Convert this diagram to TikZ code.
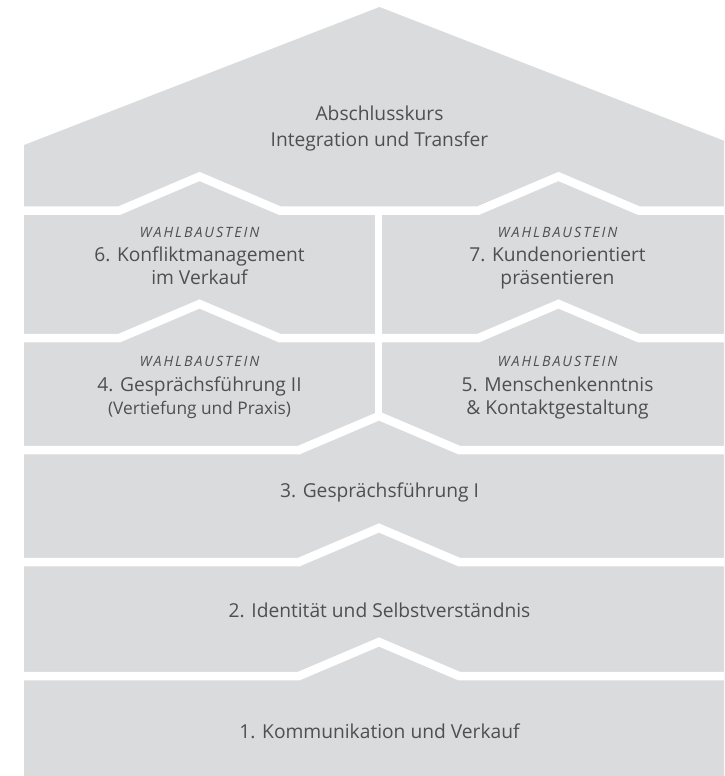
\documentclass[tikz,border=0pt]{standalone}
\usepackage{fontspec}
\setmainfont{Open Sans}
\definecolor{blockgray}{RGB}{218,219,220}
\definecolor{txtgray}{RGB}{78,79,81}
\begin{document}
\begin{tikzpicture}[x=1pt,y=-1pt,
  sepline/.style={draw=white,line width=8.5pt,miter limit=10},
  gapline/.style={draw=white,line width=7pt},
  lbl/.style={text=txtgray,font=\fontsize{19.2}{23}\selectfont,inner sep=0pt,anchor=base},
  tagtext/.style={text=txtgray,font=\fontsize{14.2}{17}\selectfont\itshape\addfontfeatures{LetterSpace=14},inner sep=0pt,anchor=base},
  sublbl/.style={text=txtgray,font=\fontsize{17.3}{21}\selectfont,inner sep=0pt,anchor=base}]
\useasboundingbox (0,0) rectangle (724,776);
\clip (0,0) rectangle (724,776);
% gray body (house)
\fill[blockgray] (24,776) -- (24,145) -- (379.5,7) -- (735,145) -- (735,776) -- cycle;
% separators
\draw[sepline] (20,210.5) -- (119.5,210.5) -- (199.5,176.5) -- (279.5,210.5) -- (478.5,210.5) -- (558.5,176.5) -- (638.5,210.5) -- (740,210.5);
\draw[sepline] (20,338) -- (119.5,338) -- (199.5,304) -- (279.5,338) -- (478.5,338) -- (558.5,304) -- (638.5,338) -- (740,338);
\draw[gapline] (378.5,210.5) -- (378.5,420);
\draw[sepline] (20,450) -- (299,450) -- (379,416) -- (459,450) -- (740,450);
\draw[sepline] (20,562) -- (299,562) -- (379,528) -- (459,562) -- (740,562);
\draw[sepline] (20,676) -- (299,676) -- (379,642) -- (459,676) -- (740,676);
% texts
\node[lbl] (top1) at (379.5,120) {Abschlusskurs};
\node[lbl] (top2) at (379.5,146.5) {Integration und Transfer};
\node[tagtext] (w6) at (199.5,237) {WAHLBAUSTEIN};
\node[lbl] (m6a) at (199.5,261.5) {6. Konfliktmanagement};
\node[lbl] (m6b) at (199.5,284.5) {im Verkauf};
\node[tagtext] (w7) at (557.5,237) {WAHLBAUSTEIN};
\node[lbl] (m7a) at (557.5,261.5) {7. Kundenorientiert};
\node[lbl] (m7b) at (557.5,284.5) {präsentieren};
\node[tagtext] (w4) at (199.5,366.5) {WAHLBAUSTEIN};
\node[lbl] (m4a) at (199.5,391) {4. Gesprächsführung II};
\node[sublbl] (m4b) at (199.5,414) {(Vertiefung und Praxis)};
\node[tagtext] (w5) at (557.5,366.5) {WAHLBAUSTEIN};
\node[lbl] (m5a) at (557.5,391) {5. Menschenkenntnis};
\node[lbl] (m5b) at (557.5,414) {\& Kontaktgestaltung};
\node[lbl] (m3) at (379.5,497) {3. Gesprächsführung I};
\node[lbl] (m2) at (379.5,617) {2. Identität und Selbstverständnis};
\node[lbl] (m1) at (379.5,738) {1. Kommunikation und Verkauf};
\end{tikzpicture}
\end{document}
